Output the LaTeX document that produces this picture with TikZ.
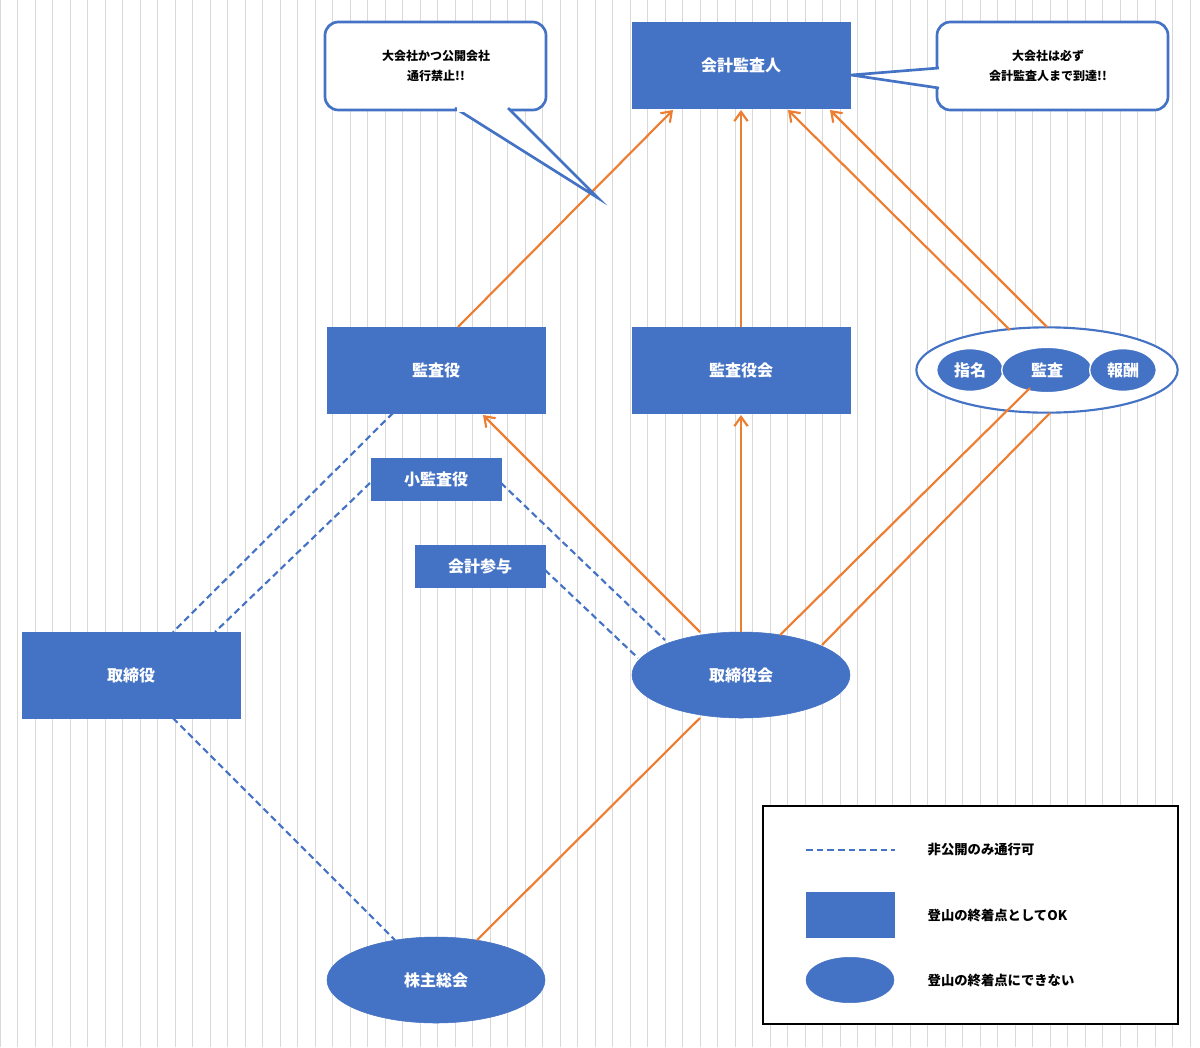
\documentclass[tikz,border=0pt]{standalone}
\usepackage{fontspec}
\setmainfont{Noto Sans CJK JP}
\usetikzlibrary{shapes.geometric,arrows.meta}
\definecolor{bl}{HTML}{4472C4}
\definecolor{og}{HTML}{ED7D31}
\begin{document}
\begin{tikzpicture}[x=0.75pt,y=-0.75pt,
 box/.style={draw=bl,fill=bl,minimum width=163.5pt,minimum height=64.5pt,text=white,font=\large\bfseries,inner sep=0},
 sbox/.style={draw=bl,fill=bl,minimum width=97.5pt,minimum height=31.5pt,text=white,font=\large\bfseries,inner sep=0},
 ell/.style={ellipse,draw=bl,fill=bl,minimum width=163.5pt,minimum height=64.5pt,text=white,font=\large\bfseries,inner sep=0},
 sell/.style={ellipse,draw=white,line width=1pt,fill=bl,text=white,font=\large\bfseries,inner sep=0},
 oarr/.style={draw=og,line width=1.6pt,-{Straight Barb[length=7pt,width=10pt]}},
 oline/.style={draw=og,line width=1.6pt},
 dsh/.style={draw=bl,line width=1.6pt,dash pattern=on 5pt off 3pt},
 call/.style={draw=bl,line width=2pt,fill=white,rounded corners=10pt}]
\useasboundingbox (0,0) rectangle (1200,1047);
\fill[white] (0,0) rectangle (1200,1047);
\draw[black!15,line width=0.5pt,step=17.5] (0,0) grid (1200,1047);
% nodes
\node[box] (cpa) at (741,65) {会計監査人};
\node[box] (ka) at (436,370) {監査役};
\node[box] (kak) at (741,370) {監査役会};
\node[ellipse,draw=bl,line width=1.6pt,fill=white,minimum width=196pt,minimum height=64pt] (big) at (1047,370) {};
\node[sell,minimum width=50pt,minimum height=32pt] (sh) at (970,370) {指名};
\node[sell,minimum width=68pt,minimum height=34pt] (kansa) at (1047,370) {監査};
\node[sell,minimum width=50pt,minimum height=32pt] (ho) at (1123,370) {報酬};
\node[sbox] (sk) at (436,479) {小監査役};
\node[sbox] (ks) at (480,566) {会計参与};
\node[box] (tr) at (131,675) {取締役};
\node[ell] (trk) at (741,675) {取締役会};
\node[ell] (kab) at (436,980) {株主総会};
% endpoints
\coordinate (a0) at (458,327); \coordinate (c1) at (673,110);
\coordinate (c0) at (741,110); \coordinate (c2) at (788,110); \coordinate (c3) at (830,110);
\coordinate (k1) at (1047,327); \coordinate (k2) at (1010,330);
\coordinate (t1) at (780,635); \coordinate (t2) at (822,645);
\coordinate (e1) at (1030,388); \coordinate (e2) at (1050,413);
\coordinate (t3) at (700,632); \coordinate (a1) at (483,415);
\coordinate (b1) at (741,415); \coordinate (s1) at (477,940); \coordinate (t4) at (700,718);
% orange
\draw[oarr] (a0) -- (c1);
\draw[oarr] (kak.north) -- (c0);
\draw[oarr] (k1) -- (c3);
\draw[oarr] (k2) -- (c2);
\draw[oline] (t1) -- (e1);
\draw[oline] (t2) -- (e2);
\draw[oarr] (t3) -- (a1);
\draw[oarr] (trk.north) -- (b1);
\draw[oline] (s1) -- (t4);
% dashed
\coordinate (d1) at (393,413); \coordinate (d2) at (173,632);
\coordinate (d3) at (370,483); \coordinate (d4) at (215,632);
\coordinate (d5) at (501,483); \coordinate (d6) at (665,640);
\coordinate (d7) at (545,570); \coordinate (d8) at (638,658);
\coordinate (d9) at (173,718); \coordinate (d10) at (395,940);
\draw[dsh] (d1) -- (d2);
\draw[dsh] (d3) -- (d4);
\draw[dsh] (d5) -- (d6);
\draw[dsh] (d7) -- (d8);
\draw[dsh] (d9) -- (d10);
% callouts
\draw[call] (325,22) rectangle (546,110);
\fill[white,draw=bl,line width=2pt,line join=miter] (455,108) -- (598,198) -- (508,108);
\fill[white] (457,103) rectangle (506,112);
\node[font=\small\bfseries,align=center] (cl) at (436,66) {大会社かつ公開会社\\[4pt]通行禁止!!};
\draw[call] (937,22) rectangle (1168,110);
\fill[white,draw=bl,line width=2pt,line join=miter] (939,68) -- (851,75) -- (939,88);
\fill[white] (933,70) rectangle (942,86);
\node[font=\small\bfseries,align=center] (cr) at (1048,66) {大会社は必ず\\[4pt]会計監査人まで到達!!};
% legend
\draw[black,line width=0.8pt,fill=white] (763,806) rectangle (1178,1024);
\coordinate (l1) at (806,850); \coordinate (l2) at (895,850);
\draw[dsh] (l1) -- (l2);
\node[anchor=west,font=\bfseries] (lt1) at (923,850) {非公開のみ通行可};
\node[draw=bl,fill=bl,minimum width=66pt,minimum height=34pt] (lr) at (850,915) {};
\node[anchor=west,font=\bfseries] (lt2) at (923,915) {登山の終着点としてOK};
\node[ellipse,draw=bl,fill=bl,minimum width=66pt,minimum height=34pt] (le) at (850,980) {};
\node[anchor=west,font=\bfseries] (lt3) at (923,980) {登山の終着点にできない};
\end{tikzpicture}
\end{document}
